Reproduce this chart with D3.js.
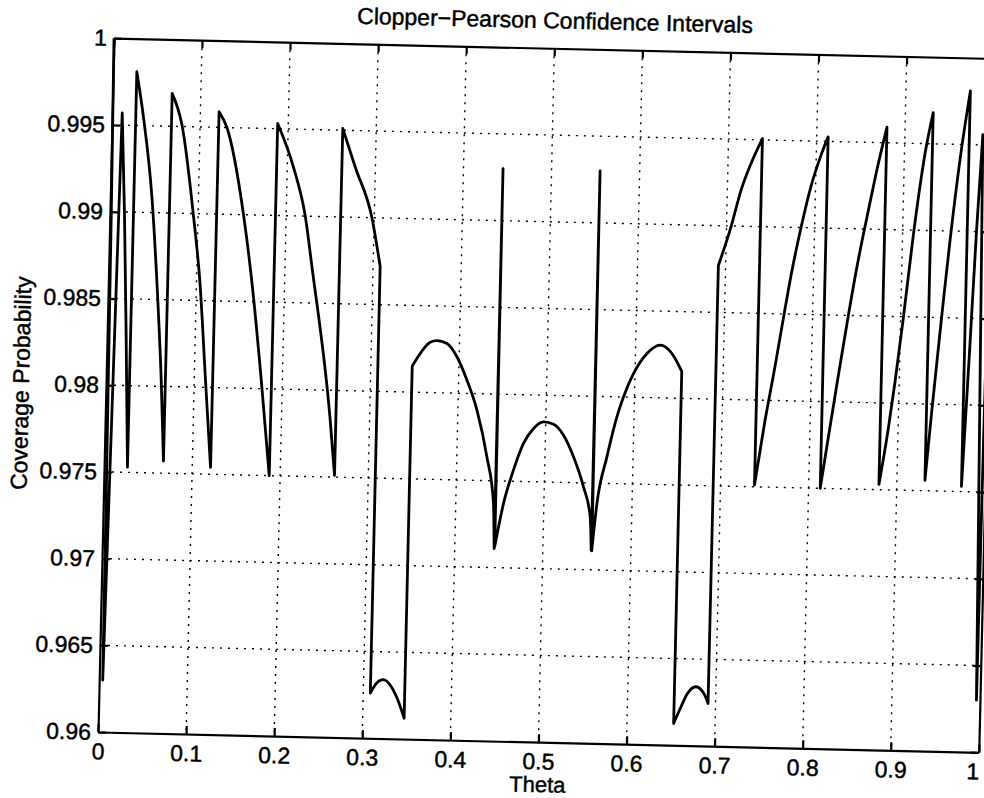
<!DOCTYPE html>
<html>
<head>
<meta charset="utf-8">
<script src="https://cdn.jsdelivr.net/npm/d3@7"></script>
<style>
  body { margin: 0; background: #fff; }
  svg text { font-family: "Liberation Sans", Arial, Helvetica, sans-serif; fill: #000; stroke: #000; stroke-width: 0.45px; }
</style>
</head>
<body>
<svg id="chart" width="984" height="798"></svg>
<script>
// Tick values and labels
const xTicks = [0, 0.1, 0.2, 0.3, 0.4, 0.5, 0.6, 0.7, 0.8, 0.9, 1];
const xTickLabels = ['0', '0.1', '0.2', '0.3', '0.4', '0.5', '0.6', '0.7', '0.8', '0.9', '1'];
const yTicks = [0.96, 0.965, 0.97, 0.975, 0.98, 0.985, 0.99, 0.995, 1];
const yTickLabels = ['0.96', '0.965', '0.97', '0.975', '0.98', '0.985', '0.99', '0.995', '1'];

// Coverage curve [theta, coverage], one list per smooth piece.
// Consecutive pieces are joined by straight jumps.
const pieces = [
  [[0, 1], [0.0015, 0.99], [0.003, 0.975], [0.004, 0.963]],
  [[0.0113, 0.9957], [0.0165, 0.9899], [0.0215, 0.983], [0.0265, 0.9753]],
  [[0.0268, 0.9981], [0.0355, 0.9955], [0.0470, 0.9910], [0.0558, 0.9855], [0.0626, 0.9803], [0.0672, 0.9757]],
  [[0.0675, 0.9969], [0.0794, 0.9951], [0.0945, 0.990], [0.1040, 0.9860], [0.1125, 0.9806], [0.1208, 0.9754]],
  [[0.1212, 0.9959], [0.1305, 0.9950], [0.1516, 0.990], [0.1632, 0.9860], [0.1769, 0.9801], [0.1876, 0.9750]],
  [[0.1880, 0.9953], [0.2071, 0.9928], [0.2217, 0.990], [0.2306, 0.9871], [0.2553, 0.9783], [0.2617, 0.9751]],
  [[0.2620, 0.9951], [0.2771, 0.9929], [0.2974, 0.990], [0.3080, 0.9872]],
  [[0.3080, 0.9626], [0.3151, 0.9632], [0.3222, 0.9634], [0.3381, 0.9624], [0.3470, 0.9612]],
  [[0.3470, 0.9815], [0.3521, 0.98195], [0.3668, 0.9829], [0.3743, 0.9830], [0.3858, 0.98285], [0.3975, 0.9821],
   [0.4094, 0.98077], [0.4216, 0.97905], [0.4341, 0.97637], [0.4428, 0.97369], [0.4447, 0.9711]],
  [[0.4449, 0.9930]],
  [[0.4453, 0.9712], [0.4542, 0.97371], [0.4646, 0.97564], [0.4753, 0.97719], [0.4863, 0.97807], [0.4975, 0.97846],
   [0.5089, 0.97834], [0.5205, 0.97772], [0.5324, 0.97649], [0.5445, 0.97477], [0.5529, 0.97305], [0.5549, 0.97112]],
  [[0.5551, 0.9930]],
  [[0.5555, 0.9711], [0.5602, 0.97383], [0.5703, 0.97653], [0.5806, 0.97885], [0.5876, 0.98001], [0.5984, 0.98137],
   [0.6131, 0.98254], [0.6279, 0.98304], [0.6325, 0.98298], [0.6441, 0.98238], [0.6530, 0.98155]],
  [[0.6530, 0.96125], [0.6607, 0.9622], [0.6679, 0.9630], [0.6773, 0.9634], [0.6868, 0.9630], [0.6915, 0.96245]],
  [[0.6918, 0.9877], [0.7051, 0.98995], [0.7156, 0.99208], [0.7262, 0.99363], [0.7385, 0.99508]],
  [[0.7385, 0.9751], [0.7484, 0.9787], [0.7585, 0.9819], [0.7665, 0.9846], [0.7744, 0.9872], [0.7846, 0.9900],
   [0.7949, 0.9924], [0.8054, 0.9942], [0.8130, 0.99526]],
  [[0.8132, 0.9750], [0.8209, 0.9779], [0.8307, 0.9815], [0.8403, 0.9849], [0.8497, 0.9880], [0.8599, 0.9909],
   [0.8683, 0.9932], [0.8795, 0.9959]],
  [[0.8797, 0.9753], [0.8888, 0.9785], [0.8952, 0.9812], [0.9028, 0.9848], [0.9122, 0.9897],
   [0.9236, 0.9945], [0.9316, 0.9968]],
  [[0.9318, 0.9756], [0.9376, 0.9795], [0.9440, 0.9835], [0.9484, 0.9862], [0.9541, 0.9895], [0.9634, 0.9942], [0.9732, 0.9981]],
  [[0.9734, 0.9753], [0.9790, 0.9830], [0.9838, 0.9900], [0.9885, 0.9956]],
  [[0.9960, 0.963], [0.9970, 0.975], [0.9985, 0.99], [1, 1]]
];

const width = 881, height = 694;
const svg = d3.select('#chart');
svg.append('rect').attr('width', 984).attr('height', 798).attr('fill', '#fff');

// the scanned figure is slightly tilted
const g = svg.append('g').attr('transform', 'rotate(1.32 98 732) translate(98 38)');

const x = d3.scaleLinear().domain([0, 1]).range([0, width]);
const y = d3.scaleLinear().domain([0.96, 1]).range([height, 0]);

// dotted grid
const grid = g.append('g').attr('stroke', '#000').attr('stroke-width', 1.4).attr('stroke-dasharray', '2 6');
grid.selectAll('.vx').data(xTicks.slice(1, -1)).join('line')
  .attr('x1', d => x(d)).attr('x2', d => x(d)).attr('y1', 0).attr('y2', height);
grid.selectAll('.hy').data(yTicks.slice(1, -1)).join('line')
  .attr('x1', 0).attr('x2', width).attr('y1', d => y(d)).attr('y2', d => y(d));

// axes with inward ticks
function styleAxis(sel) {
  sel.attr('font-size', 23).attr('font-family', '"Liberation Sans", Arial, sans-serif');
  sel.selectAll('path, line').attr('stroke', '#000').attr('stroke-width', 2.2);
  sel.selectAll('text').attr('fill', '#000');
}
const bottomAxis = g.append('g').attr('transform', `translate(0,${height})`)
  .call(d3.axisBottom(x).tickValues(xTicks).tickFormat((d, i) => xTickLabels[i]).tickSizeInner(-8).tickSizeOuter(0).tickPadding(11))
  .call(styleAxis);
// last label sits against the page edge, as in the scan
bottomAxis.selectAll('.tick text').filter(d => d === 1).attr('dx', -6);
g.append('g')
  .call(d3.axisLeft(y).tickValues(yTicks).tickFormat((d, i) => yTickLabels[i]).tickSizeInner(-8).tickSizeOuter(0).tickPadding(7))
  .call(styleAxis);
g.append('g')
  .call(d3.axisTop(x).tickValues(xTicks).tickFormat('').tickSizeInner(-8).tickSizeOuter(0))
  .call(styleAxis);
g.append('g').attr('transform', `translate(${width},0)`)
  .call(d3.axisRight(y).tickValues(yTicks).tickFormat('').tickSizeInner(-8).tickSizeOuter(0))
  .call(styleAxis);

// curve
const smooth = d3.line().x(d => x(d[0])).y(d => y(d[1])).curve(d3.curveMonotoneX);
let pathD = '';
pieces.forEach((p, i) => {
  if (p.length === 1) {
    pathD += (i ? 'L' : 'M') + x(p[0][0]) + ',' + y(p[0][1]);
  } else {
    const d = smooth(p);
    pathD += i ? 'L' + d.slice(1) : d;
  }
});
g.append('clipPath').attr('id', 'plotClip')
  .append('rect').attr('x', -2).attr('y', -2).attr('width', width + 4).attr('height', height + 4);
g.append('path')
  .attr('d', pathD)
  .attr('fill', 'none')
  .attr('stroke', '#000')
  .attr('stroke-width', 2.8)
  .attr('stroke-linejoin', 'round')
  .attr('clip-path', 'url(#plotClip)');

// labels
g.append('text').attr('x', width / 2).attr('y', -20).attr('text-anchor', 'middle')
  .attr('font-size', 23).text('Clopper\u2212Pearson Confidence Intervals');
g.append('text').attr('x', width / 2).attr('y', height + 50).attr('text-anchor', 'middle')
  .attr('font-size', 22).text('Theta');
g.append('text').attr('transform', `translate(-77,${height / 2}) rotate(-90)`).attr('text-anchor', 'middle')
  .attr('font-size', 23).text('Coverage Probability');
</script>
</body>
</html>
